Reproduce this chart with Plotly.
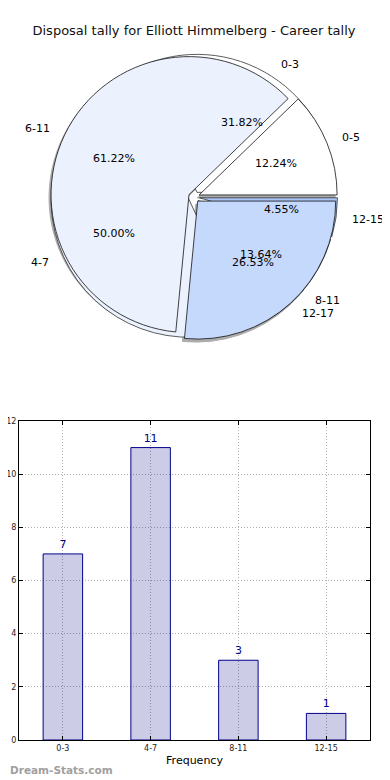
import numpy as np
import plotly.graph_objects as go

# ---------------- data ----------------
chart_title = "Disposal tally for Elliott Himmelberg - Career tally"
pie_a_labels = ["0-5", "6-11", "12-17"]
pie_a_values = [6, 30, 13]
pie_b_labels = ["0-3", "4-7", "8-11", "12-15"]
pie_b_values = [7, 11, 3, 1]
bar_categories = ["0-3", "4-7", "8-11", "12-15"]
bar_values = [7, 11, 3, 1]
y_title = "Disposal tally"
x_title = "Frequency"
watermark = "Dream-Stats.com"

# ---------------- geometry helpers ----------------
# The page body has an 8px default margin, so the figure is 8px smaller and
# every position below is given in window pixels and converted.
OFF = 8
W, H = 390 - OFF, 780 - OFF
PLOT_L, PLOT_R, PAPER_T, PLOT_B = 19, 370, 10, 740  # window pixels
ML, MR, MT, MB = PLOT_L - OFF, W - (PLOT_R - OFF), PAPER_T - OFF, H - (PLOT_B - OFF)
PW, PH = W - ML - MR, H - MT - MB


def px(x):
    return (x - OFF - ML) / PW


def py(y):
    return 1 - (y - OFF - MT) / PH


CX, CY, R = 194, 197, 138
PULL = 0.04
RD = R * (1 + PULL)  # domain half-size (plotly shrinks radius by max pull)

pie_dom = dict(x=[px(CX - RD), px(CX + RD)], y=[py(CY + RD), py(CY - RD)])
shadow_dom = dict(x=[px(CX - RD - 2), px(CX + RD - 2)], y=[py(CY + RD + 3), py(CY - RD + 3)])

colors_a = ["#ffffff", "#ebf1fd", "#c5d9fd"]
colors_b = ["#ffffff", "#ebf1fd", "#c5d9fd", "#aac4f7"]


def start_rotation(values):
    # plotly counterclockwise pies put the end of the first slice at `rotation`;
    # shift so the first slice starts at 3 o'clock like matplotlib
    v = np.array(values, dtype=float)
    return 90 - 360 * v[0] / v.sum()


fig = go.Figure()

# shadow
fig.add_trace(go.Pie(values=pie_a_values, labels=pie_a_labels, sort=False,
                     direction="counterclockwise", rotation=start_rotation(pie_a_values),
                     pull=[PULL] * len(pie_a_values),
                     marker=dict(colors=["#8a8a8a"] * 3, line=dict(color="#8a8a8a", width=1)),
                     opacity=0.7, textinfo="none", hoverinfo="skip",
                     domain=shadow_dom, showlegend=False))
# pie B (underneath)
fig.add_trace(go.Pie(values=pie_b_values, labels=pie_b_labels, sort=False,
                     direction="counterclockwise", rotation=start_rotation(pie_b_values),
                     pull=[PULL] * len(pie_b_values),
                     marker=dict(colors=colors_b, line=dict(color="#333333", width=0.8)),
                     textinfo="none", domain=pie_dom, showlegend=False))
# pie A (top)
fig.add_trace(go.Pie(values=pie_a_values, labels=pie_a_labels, sort=False,
                     direction="counterclockwise", rotation=start_rotation(pie_a_values),
                     pull=[PULL] * len(pie_a_values),
                     marker=dict(colors=colors_a, line=dict(color="#111111", width=0.8)),
                     textinfo="none", domain=pie_dom, showlegend=False))


# ---------- pie text (matplotlib style: pct at 0.6 r, labels at 1.1 r) ----------
def pie_annotations(values, labels, pull):
    v = np.array(values, dtype=float)
    frac = v / v.sum()
    start = np.concatenate([[0], np.cumsum(frac)[:-1]]) * 360
    mid = np.deg2rad(start + frac * 180)
    out = []
    for f, m, lab in zip(frac, mid, labels):
        ox, oy = pull * np.cos(m), pull * np.sin(m)
        out.append(dict(text="%.2f%%" % (100 * f), x=ox + 0.6 * np.cos(m), y=oy + 0.6 * np.sin(m),
                        xref="x2", yref="y2", showarrow=False, xanchor="center", yanchor="middle",
                        font=dict(size=11, color="black", family="DejaVu Sans")))
        out.append(dict(text=lab, x=ox + 1.1 * np.cos(m), y=oy + 1.1 * np.sin(m),
                        xref="x2", yref="y2", showarrow=False,
                        xanchor="left" if np.cos(m) >= 0 else "right", yanchor="middle",
                        font=dict(size=11, color="black", family="DejaVu Sans")))
    return out


annotations = pie_annotations(pie_b_values, pie_b_labels, PULL) + \
    pie_annotations(pie_a_values, pie_a_labels, PULL)

# watermark
annotations.append(dict(text="<b>" + watermark + "</b>", xref="paper", yref="paper",
                        x=px(OFF), y=py(770), xanchor="left", yanchor="middle", showarrow=False,
                        font=dict(size=10.5, color="#a0a0a0", family="DejaVu Sans")))
# y-axis title: sits at the window's left edge and is mostly cut off, as in the original
annotations.append(dict(text=y_title, xref="paper", yref="paper", textangle=-90,
                        x=px(1), y=py(580), xanchor="center", yanchor="middle", showarrow=False,
                        font=dict(size=11, color="black", family="DejaVu Sans")))

# ---------------- bar chart ----------------
fig.add_trace(go.Bar(x=bar_categories, y=bar_values, width=0.45,
                     marker=dict(color="rgba(0,0,128,0.2)", line=dict(color="#00008b", width=1)),
                     text=[str(v) for v in bar_values], textposition="outside",
                     textfont=dict(size=11, color="#00008b", family="DejaVu Sans"),
                     cliponaxis=False, showlegend=False, xaxis="x", yaxis="y"))

bar_dom_y = [py(740), py(421)]
grid_style = dict(showgrid=True, gridcolor="#b0b0b0", griddash="1px,2px", gridwidth=1,
                  showline=True, linecolor="black", linewidth=1, mirror="ticks",
                  ticks="inside", ticklen=4, tickcolor="black",
                  tickfont=dict(size=8, color="#222222"), zeroline=False, automargin=False)

fig.update_layout(
    width=W, height=H,
    margin=dict(l=ML, r=MR, t=MT, b=MB, autoexpand=False),
    paper_bgcolor="white", plot_bgcolor="white",
    font=dict(family="DejaVu Sans", color="black"),
    showlegend=False,
    title=dict(text=chart_title, x=(194 - OFF) / W, xanchor="center",
               y=1 - (30 - OFF) / H, yanchor="middle",
               font=dict(size=13, family="DejaVu Sans", color="#111111")),
    xaxis=dict(domain=[0, 1], range=[-0.5, 3.5], type="category",
               title=dict(text=x_title, font=dict(size=11), standoff=4),
               anchor="y", **grid_style),
    yaxis=dict(domain=bar_dom_y, range=[0, 12], dtick=2,
               anchor="x", **grid_style),
    xaxis2=dict(domain=[0, 1], range=[(PLOT_L - CX) / R, (PLOT_R - CX) / R], visible=False,
                anchor="y2", fixedrange=True),
    yaxis2=dict(domain=pie_dom["y"], range=[-RD / R, RD / R], visible=False,
                anchor="x2", fixedrange=True),
    annotations=annotations,
)

fig.write_html("out.html")
